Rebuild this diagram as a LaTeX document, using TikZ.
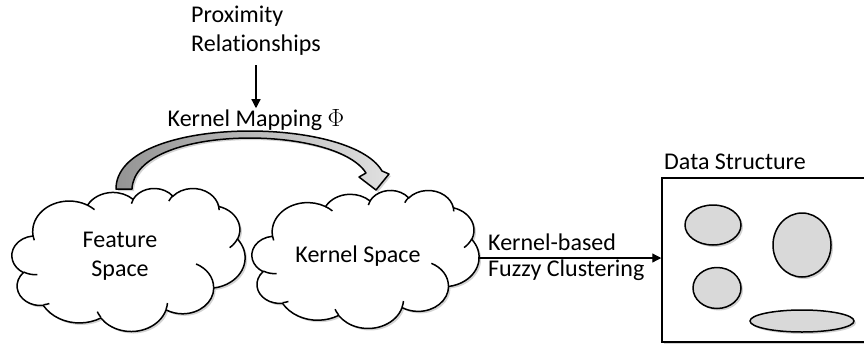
\documentclass[tikz,border=0pt]{standalone}
\usepackage{fontspec}
\setmainfont[Ligatures=CommonOff]{Carlito}
\usetikzlibrary{shapes.geometric,shadows,arrows.meta}

% elliptical arc given by radii and visual start angle / sweep (degrees)
\newcommand\oa[4]{arc[x radius=#1,y radius=#2,
  start angle={atan2((#1)*sin(#3),(#2)*cos(#3))},
  delta angle={mod(atan2((#1)*sin((#3)+(#4)),(#2)*cos((#3)+(#4)))-atan2((#1)*sin(#3),(#2)*cos(#3))+720,360)}]}

% cloud outline in a 432 x 432 frame
\newcommand\cloudoutline{(39,143.7)
  \oa{67.53}{91.90}{-190.49}{123.78}
  \oa{53.33}{72.67}{-144.10}{89.95}
  \oa{43.65}{59.45}{-145.81}{99.72}
  \oa{48.57}{65.95}{-130.99}{117.24}
  \oa{53.33}{72.73}{-78.71}{109.03}
  \oa{67.75}{92.20}{-46.27}{130.27}
  \oa{57.85}{78.67}{0.625}{114.03}
  \oa{67.52}{92.15}{22.45}{115.17}
  \oa{77.20}{105.43}{66.24}{75.71}
  \oa{43.60}{59.18}{-274.94}{146.74}
  \oa{43.45}{59.45}{-246.83}{152.52} -- cycle}

% short strokes between the puffs
\newcommand\cloudcreases{
  (46.93,261.77) \oa{43.45}{59.45}{86.74}{26.43}
  (69.28,348.99) \oa{43.60}{59.18}{73.61}{11.45}
  (164.78,390.90) \oa{67.52}{92.15}{137.62}{14.08}
  (288.27,347.51) \oa{67.52}{92.15}{6.45}{16.00}
  (341.29,229.54) \oa{57.85}{78.67}{-70.29}{70.92}
  (417.98,153.54) \oa{53.33}{72.73}{30.32}{27.75}
  (383.24,54.26) \oa{48.57}{65.95}{-13.74}{14.86}
  (290.78,39.52) \oa{48.57}{65.95}{-149.18}{18.20}
  (221.41,47.20) \oa{43.65}{59.45}{-163.49}{17.69}
  (140.00,51.92) \oa{67.53}{91.90}{-66.71}{12.32}
  (41.27,157.89) \oa{67.53}{91.90}{157.65}{11.86}}

\begin{document}
\begin{tikzpicture}[x=1pt,y=-1pt,
  every node/.style={font=\fontsize{24}{29}\selectfont},
  softshadow/.style={drop shadow={opacity=0.35,shadow xshift=2pt,shadow yshift=-2pt}},
  outline/.style={line width=1.5pt,line join=round},
  blob/.style={ellipse,draw,line width=1.5pt,fill=black!15,softshadow},
  thin/.style={line width=1.2pt,-{Triangle[length=9pt,width=9pt]}},
  plain/.style={inner sep=1pt}]
\useasboundingbox (0,0) rectangle (864,346);

% feature space cloud
\begin{scope}[shift={(12,188)},x=0.5394pt,y=-0.3310pt]
  \draw[outline,fill=white,softshadow] \cloudoutline;
  \draw[outline] \cloudcreases;
\end{scope}
\node[plain,align=center] (feat) at (120,256) {Feature\\Space};

% kernel space cloud
\begin{scope}[shift={(252,190)},x=0.5255pt,y=-0.3194pt]
  \draw[outline,fill=white,softshadow] \cloudoutline;
  \draw[outline] \cloudcreases;
\end{scope}
\node[plain] (kern) at (358,256) {Kernel Space};
\coordinate (kernE) at (479,258);

% curved mapping arrow
\fill[softshadow,left color=black!42,right color=black!12]
  (116,189) .. controls (116,115) and (350,115) .. (382,171)
  -- (389,174) -- (376,190) -- (359,177) -- (366,173)
  .. controls (335,124) and (135,124) .. (132,189) -- cycle;
\draw[outline]
  (116,189) .. controls (116,115) and (350,115) .. (382,171)
  -- (389,174) -- (376,190) -- (359,177) -- (366,173)
  .. controls (335,124) and (135,124) .. (132,189) -- cycle;

% labels
\node[plain,align=left,anchor=west] (prox) at (190,31) {Proximity\\Relat\kern0pt ionships};
\node[plain] (map) at (256,120) {Kernel Mapping $\Phi$};
\coordinate (p0) at (256,65);
\draw[thin] (p0) -- (map.north);

% data structure box
\node[plain,anchor=west] (dslabel) at (663,162) {Data Structure};
\node[draw,line width=1.5pt,fill=white,softshadow,minimum width=206pt,minimum height=164pt,
  inner sep=0pt] (box) at (765,260) {};
\node[blob,minimum width=56pt,minimum height=40pt] (e1) at (713,225) {};
\node[blob,minimum width=58pt,minimum height=64pt] (e2) at (802,245) {};
\node[blob,minimum width=48pt,minimum height=41pt] (e3) at (717,288) {};
\node[blob,minimum width=104pt,minimum height=22pt] (e4) at (802,321) {};

% clustering arrow
\draw[thin] (kernE) -- (kernE -| box.west);
\node[plain,anchor=west] (kb) at (487,242) {Kernel-based};
\node[plain,anchor=west] (fc) at (487,270) {Fuzzy Clustering};
\end{tikzpicture}
\end{document}
